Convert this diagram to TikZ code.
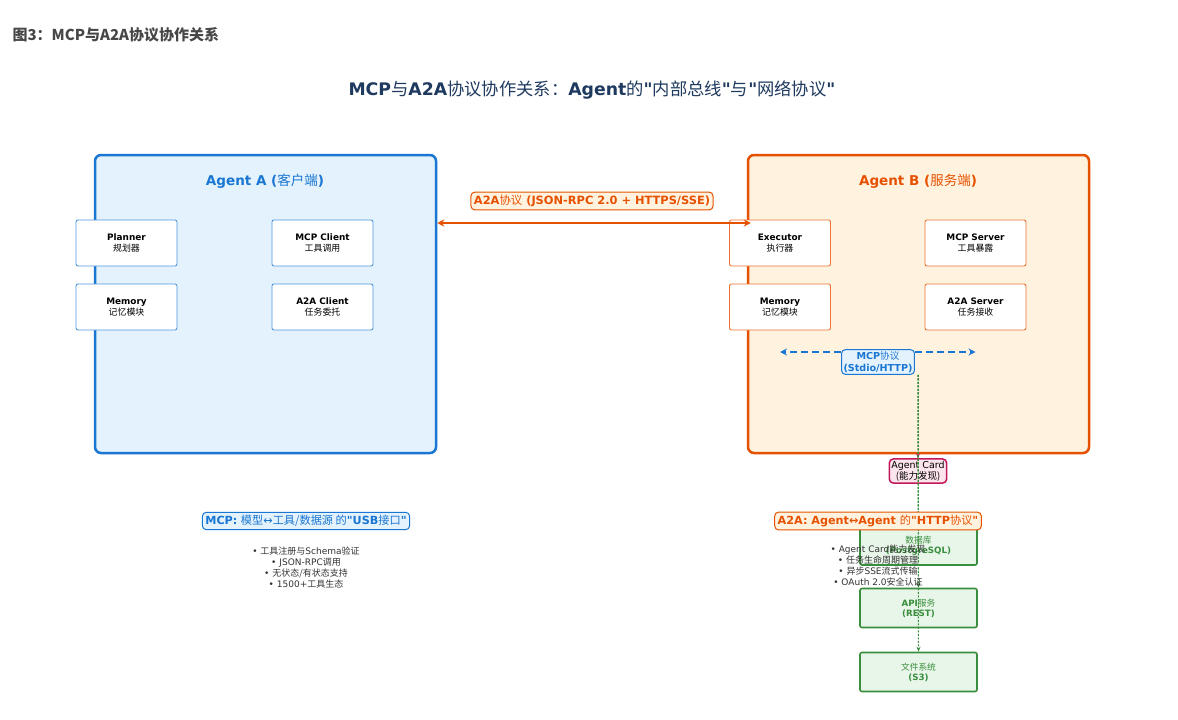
\documentclass[tikz,border=0pt]{standalone}
\usepackage{fontspec}
\setmainfont{DejaVu Sans}[Ligatures=TeXOff]
\newfontfamily\zhfont{Noto Sans CJK SC}[Ligatures=TeXOff]
\newcommand\zh[1]{{\zhfont\mdseries #1}}
\newcommand\fsz[2]{\fontsize{#1}{#2}\selectfont}
\usetikzlibrary{positioning,arrows.meta}
\definecolor{ablue}{HTML}{1976D2}
\definecolor{abluel}{HTML}{E3F2FD}
\definecolor{borange}{HTML}{E65100}
\definecolor{borangel}{HTML}{FFF3E0}
\definecolor{sgreen}{HTML}{388E3C}
\definecolor{sgreenl}{HTML}{E8F5E9}
\definecolor{cpink}{HTML}{C2185B}
\definecolor{cpinkl}{HTML}{FCE4EC}
\definecolor{navy}{HTML}{1F3A5F}
\definecolor{txtgray}{HTML}{333333}

\begin{document}
\begin{tikzpicture}[x=1pt, y=-1pt,
    >={Stealth[length=7pt,width=7pt]},
    agent/.style={draw, rounded corners=6pt, line width=2.5pt,
                  minimum width=341pt, minimum height=298pt},
    comp/.style={draw, rounded corners=2pt, fill=white, line width=0.9pt,
                 minimum width=101pt, minimum height=46pt, align=center,
                 font=\fsz{8.9}{11}},
    tag/.style={draw, rounded corners=4pt, line width=1pt, align=center,
                inner sep=3pt},
    store/.style={draw=sgreen, fill=sgreenl, line width=1.6pt, rounded corners=2pt,
                  minimum width=117pt, minimum height=39pt, align=center,
                  text=sgreen, font=\bfseries\fsz{8.7}{10}},
    bullets/.style={align=center, text=txtgray, font=\fsz{9}{11}},
    link/.style={sgreen, line width=1pt, dash pattern=on 2pt off 1.5pt,
                 -{Stealth[length=5pt,width=4pt]}},
  ]
  \useasboundingbox[fill=white] (0,0) rectangle (1178,720);

  % Headings
  \node[anchor=west, text=txtgray!90, font=\zhfont\bfseries\fsz{15}{17}]
    (fig) at (9,35) {图3：MCP与A2A协议协作关系};
  \node[text=navy, font=\bfseries\fsz{17.3}{19}] (title) at (592,90)
    {MCP\zh{与}A2A\zh{协议协作关系：}Agent\zh{的}"\zh{内部总线}"\zh{与}"\zh{网络协议}"};

  % Agent A
  \node[agent, draw=ablue, fill=abluel] (agentA) at (265.5,304) {};
  \node[text=ablue, font=\bfseries\fsz{13.5}{15}] (titleA) at (265,181)
    {Agent A (\zh{客户端})};
  \node[comp, draw=ablue!75] (planner) at (126.5,243) {\textbf{Planner}\\\zh{规划器}};
  \node[comp, draw=ablue!75] (mcpc) at (322.5,243) {\textbf{MCP Client}\\\zh{工具调用}};
  \node[comp, draw=ablue!75] (memA) at (126.5,307) {\textbf{Memory}\\\zh{记忆模块}};
  \node[comp, draw=ablue!75] (a2ac) at (322.5,307) {\textbf{A2A Client}\\\zh{任务委托}};

  % Agent B
  \node[agent, draw=borange, fill=borangel] (agentB) at (918.5,304) {};
  \node[text=borange, font=\bfseries\fsz{13.5}{15}] (titleB) at (918,181)
    {Agent B (\zh{服务端})};
  \node[comp, draw=borange!80] (exec) at (780,243) {\textbf{Executor}\\\zh{执行器}};
  \node[comp, draw=borange!80] (mcps) at (975.5,243) {\textbf{MCP Server}\\\zh{工具暴露}};
  \node[comp, draw=borange!80] (memB) at (780,307) {\textbf{Memory}\\\zh{记忆模块}};
  \node[comp, draw=borange!80] (a2as) at (975.5,307) {\textbf{A2A Server}\\\zh{任务接收}};

  % A2A link
  \draw[<->, borange, line width=2.5pt]
    ([yshift=81pt]agentA.east) -- ([xshift=4pt,yshift=81pt]agentB.west);
  \node[tag, draw=borange, fill=borangel, text=borange, font=\bfseries\fsz{11.4}{13}]
    (a2alabel) at (592,201) {A2A\zh{协议} (JSON-RPC 2.0 + HTTPS/SSE)};

  % MCP link
  \node[tag, draw=ablue, fill=abluel, text=ablue, inner sep=2pt,
        font=\bfseries\fsz{9.6}{11.5}] (mcplabel) at (878,362) {MCP\zh{协议}\\(Stdio/HTTP)};
  \draw[->, ablue, line width=2pt, dash pattern=on 7pt off 4pt]
    ([yshift=10pt]mcplabel.west) -- ([yshift=10pt]mcplabel.west -| memB.south);
  \draw[->, ablue, line width=2pt, dash pattern=on 7pt off 4pt]
    ([yshift=10pt]mcplabel.east) -- ([yshift=10pt]mcplabel.east -| a2as.south);

  % Discovery and resources
  \node[tag, draw=cpink, fill=cpinkl, line width=1.5pt, inner sep=2pt,
        font=\fsz{9.5}{11}] (card) at (918,471) {Agent Card\\\zh{(能力发现)}};
  \node[store] (db) at (918.5,545.5) {\zh{数据库}\\(PostgreSQL)};
  \node[store] (api) at (918.5,608) {API\zh{服务}\\(REST)};
  \node[store] (fs) at (918.5,672) {\zh{文件系统}\\(S3)};

  \draw[link, cpink] ([xshift=40pt]mcplabel.south) -- (card.north);
  \draw[link] ([xshift=40pt]mcplabel.south) -- (db.north);
  \draw[link] ([xshift=40pt]mcplabel.south) -- (api.north);
  \draw[link] ([xshift=40pt]mcplabel.south) -- (fs.north);

  % Summaries
  \node[tag, draw=ablue, fill=abluel, text=ablue, font=\fsz{11.2}{13}]
    (mcpsum) at (306,521)
    {\textbf{MCP:} \zh{模型}↔\zh{工具/数据源 的}\textbf{"USB}\zh{接口}\textbf{"}};
  \node[bullets, below=13pt of mcpsum] (mcplist)
    {• \zh{工具注册与}Schema\zh{验证}\\• JSON-RPC\zh{调用}\\• \zh{无状态/有状态支持}\\• 1500+\zh{工具生态}};

  \node[tag, draw=borange, fill=borangel, text=borange, font=\bfseries\fsz{11.2}{13}]
    (a2asum) at (878,521) {A2A: Agent↔Agent \zh{的}"HTTP\zh{协议}"};
  \node[bullets, below=11pt of a2asum] (a2alist)
    {• Agent Card\zh{能力发现}\\• \zh{任务生命周期管理}\\• \zh{异步}SSE\zh{流式传输}\\• OAuth 2.0\zh{安全认证}};
\end{tikzpicture}
\end{document}
